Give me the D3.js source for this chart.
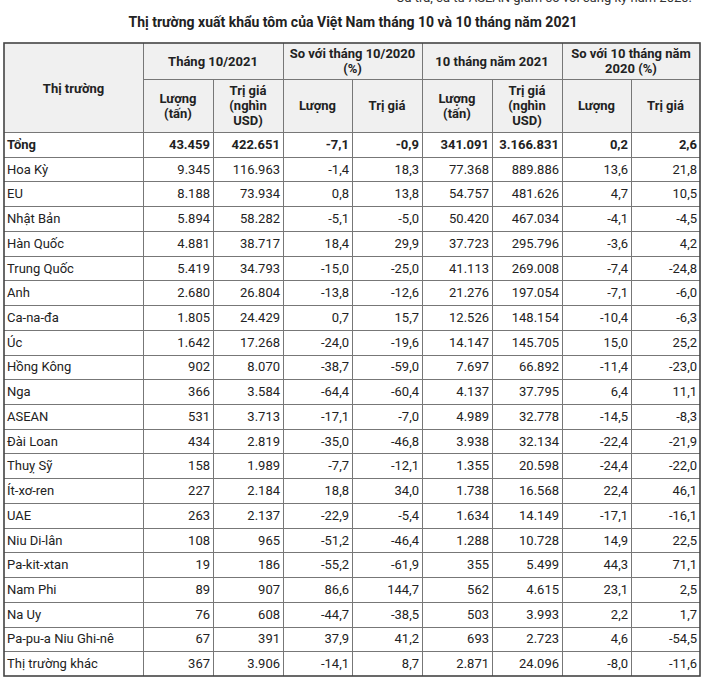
<!DOCTYPE html>
<html>
<head>
<meta charset="utf-8">
<script src="https://cdn.jsdelivr.net/npm/d3@7"></script>
<style>
  body { margin: 0; background: #fff; }
  svg { font-family: Roboto, "Noto Sans", sans-serif; display: block; }
</style>
</head>
<body>
<div id="chart"></div>
<script>
const markets = ["Tổng", "Hoa Kỳ", "EU", "Nhật Bản", "Hàn Quốc", "Trung Quốc", "Anh", "Ca-na-đa", "Úc",
  "Hồng Kông", "Nga", "ASEAN", "Đài Loan", "Thuỵ Sỹ", "Ít-xơ-ren", "UAE", "Niu Di-lân", "Pa-kit-xtan",
  "Nam Phi", "Na Uy", "Pa-pu-a Niu Ghi-nê", "Thị trường khác"];
const volOct = [43459, 9345, 8188, 5894, 4881, 5419, 2680, 1805, 1642, 902, 366, 531, 434, 158, 227, 263, 108, 19, 89, 76, 67, 367];
const valOct = [422651, 116963, 73934, 58282, 38717, 34793, 26804, 24429, 17268, 8070, 3584, 3713, 2819, 1989, 2184, 2137, 965, 186, 907, 608, 391, 3906];
const volOctChg = [-7.1, -1.4, 0.8, -5.1, 18.4, -15.0, -13.8, 0.7, -24.0, -38.7, -64.4, -17.1, -35.0, -7.7, 18.8, -22.9, -51.2, -55.2, 86.6, -44.7, 37.9, -14.1];
const valOctChg = [-0.9, 18.3, 13.8, -5.0, 29.9, -25.0, -12.6, 15.7, -19.6, -59.0, -60.4, -7.0, -46.8, -12.1, 34.0, -5.4, -46.4, -61.9, 144.7, -38.5, 41.2, 8.7];
const vol10m = [341091, 77368, 54757, 50420, 37723, 41113, 21276, 12526, 14147, 7697, 4137, 4989, 3938, 1355, 1738, 1634, 1288, 355, 562, 503, 693, 2871];
const val10m = [3166831, 889886, 481626, 467034, 295796, 269008, 197054, 148154, 145705, 66892, 37795, 32778, 32134, 20598, 16568, 14149, 10728, 5499, 4615, 3993, 2723, 24096];
const vol10mChg = [0.2, 13.6, 4.7, -4.1, -3.6, -7.4, -7.1, -10.4, 15.0, -11.4, 6.4, -14.5, -22.4, -24.4, 22.4, -17.1, 14.9, 44.3, 23.1, 2.2, 4.6, -8.0];
const val10mChg = [2.6, 21.8, 10.5, -4.5, 4.2, -24.8, -6.0, -6.3, 25.2, -23.0, 11.1, -8.3, -21.9, -22.0, 46.1, -16.1, 22.5, 71.1, 2.5, 1.7, -54.5, -11.6];

const groupHeaders = [["Tháng 10/2021"], ["So với tháng 10/2020", "(%)"], ["10 tháng năm 2021"], ["So với 10 tháng năm", "2020 (%)"]];
const subHeaders = [["Lượng", "(tấn)"], ["Trị giá", "(nghìn", "USD)"], ["Lượng"], ["Trị giá"],
  ["Lượng", "(tấn)"], ["Trị giá", "(nghìn", "USD)"], ["Lượng"], ["Trị giá"]];

const title = "Thị trường xuất khẩu tôm của Việt Nam tháng 10 và 10 tháng năm 2021";
const note = "Cá tra, cá từ ASEAN giảm so với cùng kỳ năm 2020.";

const width = 706, height = 681;
const colEdges = [4, 143, 213, 283, 352, 422, 492, 562, 631, 700];
const tableTop = 43, head1 = 79, head2 = 132, tableBottom = 676;

const vn = d3.formatLocale({ decimal: ",", thousands: ".", grouping: [3], currency: ["", ""], minus: "-" });
const fInt = vn.format(",d");
const fPct = vn.format(".1f");

const columns = [volOct, valOct, volOctChg, valOctChg, vol10m, val10m, vol10mChg, val10mChg];
const formats = [fInt, fInt, fPct, fPct, fInt, fInt, fPct, fPct];

const y = d3.scaleLinear().domain([0, markets.length]).range([head2, tableBottom]);
const x = i => colEdges[i];

const svg = d3.select("#chart").append("svg")
  .attr("width", width).attr("height", height);

// note cut off at the very top, as in the source
svg.append("text")
  .attr("x", 692).attr("y", 2)
  .attr("text-anchor", "end")
  .attr("font-size", 13).attr("fill", "#333")
  .text(note);

svg.append("text")
  .attr("x", width / 2).attr("y", 27)
  .attr("text-anchor", "middle")
  .attr("font-size", 14).attr("font-weight", "bold").attr("fill", "#222")
  .text(title);

// header background
svg.append("rect")
  .attr("x", x(0)).attr("y", tableTop)
  .attr("width", x(9) - x(0)).attr("height", head2 - tableTop)
  .attr("fill", "#f0f0f0");

// grid lines
const grid = svg.append("g").attr("stroke", "#777").attr("stroke-width", 1).attr("shape-rendering", "crispEdges");
grid.selectAll(".hrow")
  .data(d3.range(1, markets.length))
  .join("line")
  .attr("x1", x(0)).attr("x2", x(9))
  .attr("y1", d => Math.round(y(d)) + 0.5).attr("y2", d => Math.round(y(d)) + 0.5);
grid.append("line")
  .attr("x1", x(0)).attr("x2", x(9))
  .attr("y1", head2 + 0.5).attr("y2", head2 + 0.5);
grid.append("line")
  .attr("x1", x(1)).attr("x2", x(9))
  .attr("y1", head1 + 0.5).attr("y2", head1 + 0.5);
grid.selectAll(".vcol")
  .data(d3.range(1, 9))
  .join("line")
  .attr("x1", d => x(d) + 0.5).attr("x2", d => x(d) + 0.5)
  .attr("y1", d => (d % 2 === 0 ? head1 : tableTop)).attr("y2", tableBottom);

// outer border
svg.append("rect")
  .attr("x", x(0)).attr("y", tableTop)
  .attr("width", x(9) - x(0)).attr("height", tableBottom - tableTop)
  .attr("fill", "none").attr("stroke", "#444").attr("stroke-width", 1.6);

// multi-line centered text helper
function multiline(g, lines, cx, cy, lh) {
  const t = g.append("text")
    .attr("text-anchor", "middle")
    .attr("font-size", 13).attr("font-weight", "bold").attr("fill", "#222");
  const y0 = cy - (lines.length - 1) * lh / 2 + 4.5;
  lines.forEach((s, i) => {
    t.append("tspan").attr("x", cx).attr("y", y0 + i * lh).text(s);
  });
}

const head = svg.append("g");
multiline(head, ["Thị trường"], (x(0) + x(1)) / 2, 88, 15);
groupHeaders.forEach((lines, i) => {
  multiline(head, lines, (x(1 + 2 * i) + x(3 + 2 * i)) / 2, (tableTop + head1) / 2, 15);
});
subHeaders.forEach((lines, i) => {
  multiline(head, lines, (x(1 + i) + x(2 + i)) / 2, (head1 + head2) / 2, 15);
});

// body rows
const body = svg.append("g").attr("font-size", 13).attr("fill", "#222");
const rows = body.selectAll("g.row")
  .data(markets)
  .join("g")
  .attr("class", "row")
  .attr("font-weight", (d, i) => (i === 0 ? "bold" : "normal"))
  .attr("transform", (d, i) => `translate(0,${(y(i) + y(i + 1)) / 2 + 4.5})`);

rows.append("text")
  .attr("x", x(0) + 3)
  .text(d => d);

columns.forEach((col, c) => {
  rows.append("text")
    .attr("x", x(c + 2) - 3)
    .attr("text-anchor", "end")
    .text((d, i) => formats[c](col[i]));
});
</script>
</body>
</html>
